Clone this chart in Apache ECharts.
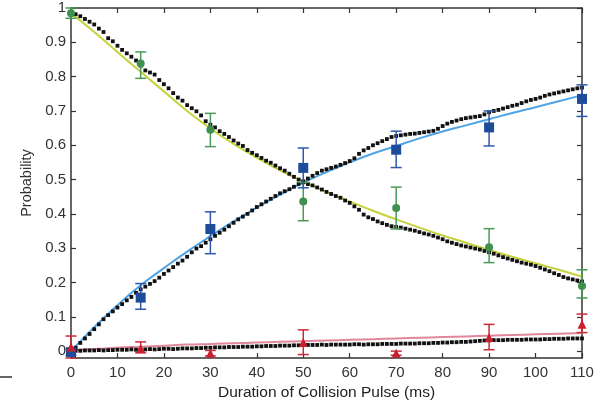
<!DOCTYPE html>
<html>
<head>
<meta charset="utf-8">
<script src="https://cdn.jsdelivr.net/npm/echarts@6/dist/echarts.min.js"></script>
<style>
  html, body { margin: 0; padding: 0; background: #fff; }
  #chart { width: 600px; height: 406px; }
</style>
</head>
<body>
<div id="chart"></div>
<script>
// Measured populations at each collision-pulse duration (ms)
const pulseTimes = [0, 15, 30, 50, 70, 90, 110];

const greenMean = [0.985, 0.838, 0.645, 0.436, 0.417, 0.303, 0.190];
const greenLow  = [0.970, 0.795, 0.596, 0.380, 0.356, 0.258, 0.155];
const greenHigh = [1.000, 0.872, 0.693, 0.492, 0.478, 0.357, 0.237];

const blueMean = [-0.003, 0.156, 0.356, 0.534, 0.587, 0.652, 0.735];
const blueLow  = [-0.012, 0.122, 0.284, 0.476, 0.535, 0.598, 0.684];
const blueHigh = [0.006, 0.197, 0.406, 0.592, 0.641, 0.700, 0.776];

const redMean = [0.012, 0.008, -0.006, 0.025, -0.006, 0.040, 0.078];
const redLow  = [-0.020, -0.005, -0.014, -0.010, -0.012, 0.004, 0.054];
const redHigh = [0.044, 0.027, 0.002, 0.062, 0.000, 0.078, 0.108];

// Fitted curves
const fitTimes = [0, 5, 10, 15, 20, 25, 30, 35, 40, 45, 50, 55, 60, 65, 70, 75, 80, 85, 90, 95, 100, 105, 110];
const fitGreen = [0.985, 0.930, 0.872, 0.814, 0.757, 0.700, 0.649, 0.604, 0.564, 0.527, 0.494, 0.464, 0.436, 0.409, 0.384, 0.360, 0.337, 0.316, 0.295, 0.275, 0.256, 0.237, 0.217];
const fitBlue  = [0.000, 0.070, 0.134, 0.192, 0.242, 0.290, 0.335, 0.378, 0.418, 0.456, 0.491, 0.522, 0.550, 0.576, 0.598, 0.620, 0.640, 0.658, 0.676, 0.694, 0.711, 0.728, 0.746];
const fitRed   = [0.003, 0.006, 0.010, 0.013, 0.016, 0.019, 0.021, 0.023, 0.025, 0.027, 0.029, 0.031, 0.033, 0.035, 0.037, 0.039, 0.041, 0.043, 0.045, 0.047, 0.049, 0.051, 0.053];

// Simulated populations, one point per millisecond
const simTimes = [
  0, 1, 2, 3, 4, 5, 6, 7, 8, 9, 10, 11, 12, 13, 14, 15, 16, 17, 18, 19,
  20, 21, 22, 23, 24, 25, 26, 27, 28, 29, 30, 31, 32, 33, 34, 35, 36, 37, 38, 39,
  40, 41, 42, 43, 44, 45, 46, 47, 48, 49, 50, 51, 52, 53, 54, 55, 56, 57, 58, 59,
  60, 61, 62, 63, 64, 65, 66, 67, 68, 69, 70, 71, 72, 73, 74, 75, 76, 77, 78, 79,
  80, 81, 82, 83, 84, 85, 86, 87, 88, 89, 90, 91, 92, 93, 94, 95, 96, 97, 98, 99,
  100, 101, 102, 103, 104, 105, 106, 107, 108, 109, 110
];
const simGreen = [
  0.985, 0.982, 0.976, 0.968, 0.960, 0.952, 0.940, 0.930, 0.912, 0.903,
  0.890, 0.878, 0.868, 0.858, 0.847, 0.832, 0.818, 0.812, 0.806, 0.790,
  0.778, 0.766, 0.752, 0.739, 0.730, 0.717, 0.708, 0.699, 0.687, 0.670,
  0.660, 0.652, 0.641, 0.633, 0.624, 0.614, 0.605, 0.598, 0.586, 0.578,
  0.571, 0.563, 0.555, 0.549, 0.541, 0.533, 0.526, 0.517, 0.508, 0.500,
  0.492, 0.487, 0.483, 0.477, 0.471, 0.464, 0.458, 0.452, 0.447, 0.439,
  0.432, 0.422, 0.412, 0.398, 0.390, 0.385, 0.378, 0.373, 0.368, 0.364,
  0.362, 0.360, 0.357, 0.354, 0.351, 0.347, 0.343, 0.340, 0.336, 0.331,
  0.326, 0.320, 0.316, 0.312, 0.308, 0.305, 0.302, 0.299, 0.296, 0.292,
  0.288, 0.284, 0.279, 0.274, 0.270, 0.266, 0.262, 0.258, 0.255, 0.252,
  0.248, 0.243, 0.238, 0.233, 0.227, 0.222, 0.216, 0.212, 0.209, 0.206,
  0.203
];
const simBlue = [
  0.000, 0.010, 0.024, 0.037, 0.050, 0.064, 0.078, 0.093, 0.105, 0.116,
  0.127, 0.137, 0.148, 0.158, 0.170, 0.180, 0.188, 0.196, 0.204, 0.214,
  0.225, 0.235, 0.245, 0.255, 0.264, 0.275, 0.288, 0.299, 0.306, 0.316,
  0.326, 0.336, 0.345, 0.354, 0.364, 0.374, 0.384, 0.392, 0.400, 0.410,
  0.420, 0.428, 0.436, 0.444, 0.452, 0.460, 0.466, 0.472, 0.479, 0.487,
  0.495, 0.503, 0.511, 0.519, 0.526, 0.530, 0.534, 0.538, 0.543, 0.548,
  0.554, 0.562, 0.575, 0.585, 0.592, 0.600, 0.606, 0.612, 0.618, 0.624,
  0.627, 0.629, 0.631, 0.633, 0.634, 0.636, 0.638, 0.640, 0.642, 0.648,
  0.656, 0.663, 0.668, 0.672, 0.676, 0.679, 0.681, 0.683, 0.685, 0.690,
  0.696, 0.700, 0.703, 0.707, 0.711, 0.715, 0.718, 0.723, 0.728, 0.732,
  0.735, 0.739, 0.744, 0.748, 0.751, 0.754, 0.757, 0.760, 0.763, 0.766,
  0.768
];
const simRed = [
  0.000, 0.001, 0.001, 0.002, 0.002, 0.002, 0.003, 0.002, 0.003, 0.003,
  0.004, 0.004, 0.004, 0.005, 0.004, 0.005, 0.005, 0.006, 0.005, 0.006,
  0.007, 0.007, 0.006, 0.007, 0.008, 0.008, 0.008, 0.009, 0.009, 0.010,
  0.010, 0.011, 0.011, 0.011, 0.012, 0.012, 0.012, 0.013, 0.013, 0.013,
  0.014, 0.014, 0.015, 0.015, 0.015, 0.016, 0.016, 0.016, 0.017, 0.017,
  0.018, 0.018, 0.018, 0.018, 0.019, 0.018, 0.019, 0.019, 0.019, 0.019,
  0.019, 0.020, 0.020, 0.019, 0.020, 0.020, 0.020, 0.021, 0.021, 0.021,
  0.021, 0.022, 0.022, 0.022, 0.022, 0.023, 0.023, 0.023, 0.024, 0.024,
  0.025, 0.025, 0.026, 0.026, 0.027, 0.027, 0.028, 0.029, 0.030, 0.031,
  0.031, 0.032, 0.032, 0.032, 0.033, 0.033, 0.033, 0.033, 0.034, 0.034,
  0.034, 0.034, 0.035, 0.035, 0.036, 0.036, 0.036, 0.037, 0.037, 0.037,
  0.037
];

const yTicks = [0, 0.1, 0.2, 0.3, 0.4, 0.5, 0.6, 0.7, 0.8, 0.9, 1];

const FONT = '"Liberation Sans", Arial, Helvetica, sans-serif';
const AXIS_COLOR = '#333';

function zip(xs, ys) { return xs.map((x, i) => [x, ys[i]]); }
function zip3(xs, a, b) { return xs.map((x, i) => [x, a[i], b[i]]); }

// Vertical error bar with short caps at both ends
function errorBars(name, color, low, high) {
  return {
    name: name,
    type: 'custom',
    z: 4,
    data: zip3(pulseTimes, low, high),
    renderItem: function (params, api) {
      const x = api.value(0);
      const lo = api.coord([x, api.value(1)]);
      const hi = api.coord([x, api.value(2)]);
      const half = 5.5;
      const style = { stroke: color, lineWidth: 1.5, fill: null };
      return {
        type: 'group',
        children: [
          { type: 'line', shape: { x1: lo[0], y1: lo[1], x2: hi[0], y2: hi[1] }, style: style },
          { type: 'line', shape: { x1: hi[0] - half, y1: hi[1], x2: hi[0] + half, y2: hi[1] }, style: style },
          { type: 'line', shape: { x1: lo[0] - half, y1: lo[1], x2: lo[0] + half, y2: lo[1] }, style: style }
        ]
      };
    }
  };
}

function dots(name, values) {
  return {
    name: name, type: 'scatter', data: zip(simTimes, values),
    symbol: 'rect', symbolSize: 3.8, z: 2,
    itemStyle: { color: '#111', opacity: 1 }
  };
}

function points(name, values, symbol, size, color) {
  return {
    name: name, type: 'scatter', data: zip(pulseTimes, values),
    symbol: symbol, symbolSize: size, z: 5,
    itemStyle: { color: color, opacity: 1 }
  };
}

const chart = echarts.init(document.getElementById('chart'), null, { renderer: 'canvas' });

chart.setOption({
  animation: false,
  backgroundColor: '#fff',
  grid: { left: 71, right: 18, top: 8, bottom: 47 },
  xAxis: [
    {
      type: 'value', min: 0, max: 110, interval: 10,
      position: 'bottom',
      name: 'Duration of Collision Pulse (ms)',
      nameLocation: 'middle', nameGap: 27,
      nameTextStyle: { fontFamily: FONT, fontSize: 15.5, color: '#222' },
      axisLine: { show: true, onZero: false, lineStyle: { color: AXIS_COLOR, width: 1.5 } },
      axisTick: { show: true, inside: true, length: 5, lineStyle: { color: AXIS_COLOR, width: 1.2 } },
      axisLabel: { fontFamily: FONT, fontSize: 15, color: '#333', margin: 7 },
      splitLine: { show: false }
    },
    {
      type: 'value', min: 0, max: 110, interval: 10,
      position: 'top',
      axisLine: { show: true, onZero: false, lineStyle: { color: AXIS_COLOR, width: 1.5 } },
      axisTick: { show: true, inside: true, length: 5, lineStyle: { color: AXIS_COLOR, width: 1.2 } },
      axisLabel: { show: false },
      splitLine: { show: false }
    }
  ],
  yAxis: [
    {
      type: 'value', min: -0.02, max: 1,
      position: 'left',
      name: 'Probability',
      nameLocation: 'middle', nameGap: 37, nameRotate: 90,
      nameTextStyle: { fontFamily: FONT, fontSize: 14.5, color: '#333' },
      axisLine: { show: true, onZero: false, lineStyle: { color: AXIS_COLOR, width: 1.5 } },
      axisTick: { show: true, inside: true, length: 5, customValues: yTicks, lineStyle: { color: AXIS_COLOR, width: 1.2 } },
      axisLabel: {
        fontFamily: FONT, fontSize: 15, color: '#333', margin: 5,
        customValues: yTicks,
        formatter: function (v) { return (v === 0 || v === 1) ? String(v) : v.toFixed(1); }
      },
      splitLine: { show: false }
    },
    {
      type: 'value', min: -0.02, max: 1,
      position: 'right',
      axisLine: { show: true, onZero: false, lineStyle: { color: AXIS_COLOR, width: 1.5 } },
      axisTick: { show: true, inside: true, length: 5, customValues: yTicks, lineStyle: { color: AXIS_COLOR, width: 1.2 } },
      axisLabel: { show: false },
      splitLine: { show: false }
    }
  ],
  graphic: [
    { type: 'line', shape: { x1: 0, y1: 377, x2: 12, y2: 377 }, style: { stroke: '#333', lineWidth: 1.5 } }
  ],
  series: [
    // fitted curves
    { name: 'fit green', type: 'line', data: zip(fitTimes, fitGreen), smooth: true, showSymbol: false, z: 1,
      lineStyle: { color: '#c6d23c', width: 2 } },
    { name: 'fit blue', type: 'line', data: zip(fitTimes, fitBlue), smooth: true, showSymbol: false, z: 1,
      lineStyle: { color: '#4ea4e6', width: 2 } },
    { name: 'fit red', type: 'line', data: zip(fitTimes, fitRed), smooth: true, showSymbol: false, z: 1,
      lineStyle: { color: '#e2879b', width: 2 } },
    // simulated points
    dots('sim green', simGreen),
    dots('sim blue', simBlue),
    dots('sim red', simRed),
    // measurement uncertainties
    errorBars('err green', '#4a9a5a', greenLow, greenHigh),
    errorBars('err blue', '#2d58ab', blueLow, blueHigh),
    errorBars('err red', '#cc2a3a', redLow, redHigh),
    // measured points
    points('green', greenMean, 'circle', 8, '#3f8f4e'),
    points('blue', blueMean, 'rect', 10, '#1f4b9b'),
    points('red', redMean, 'triangle', 9, '#c9202e')
  ]
});
</script>
</body>
</html>
